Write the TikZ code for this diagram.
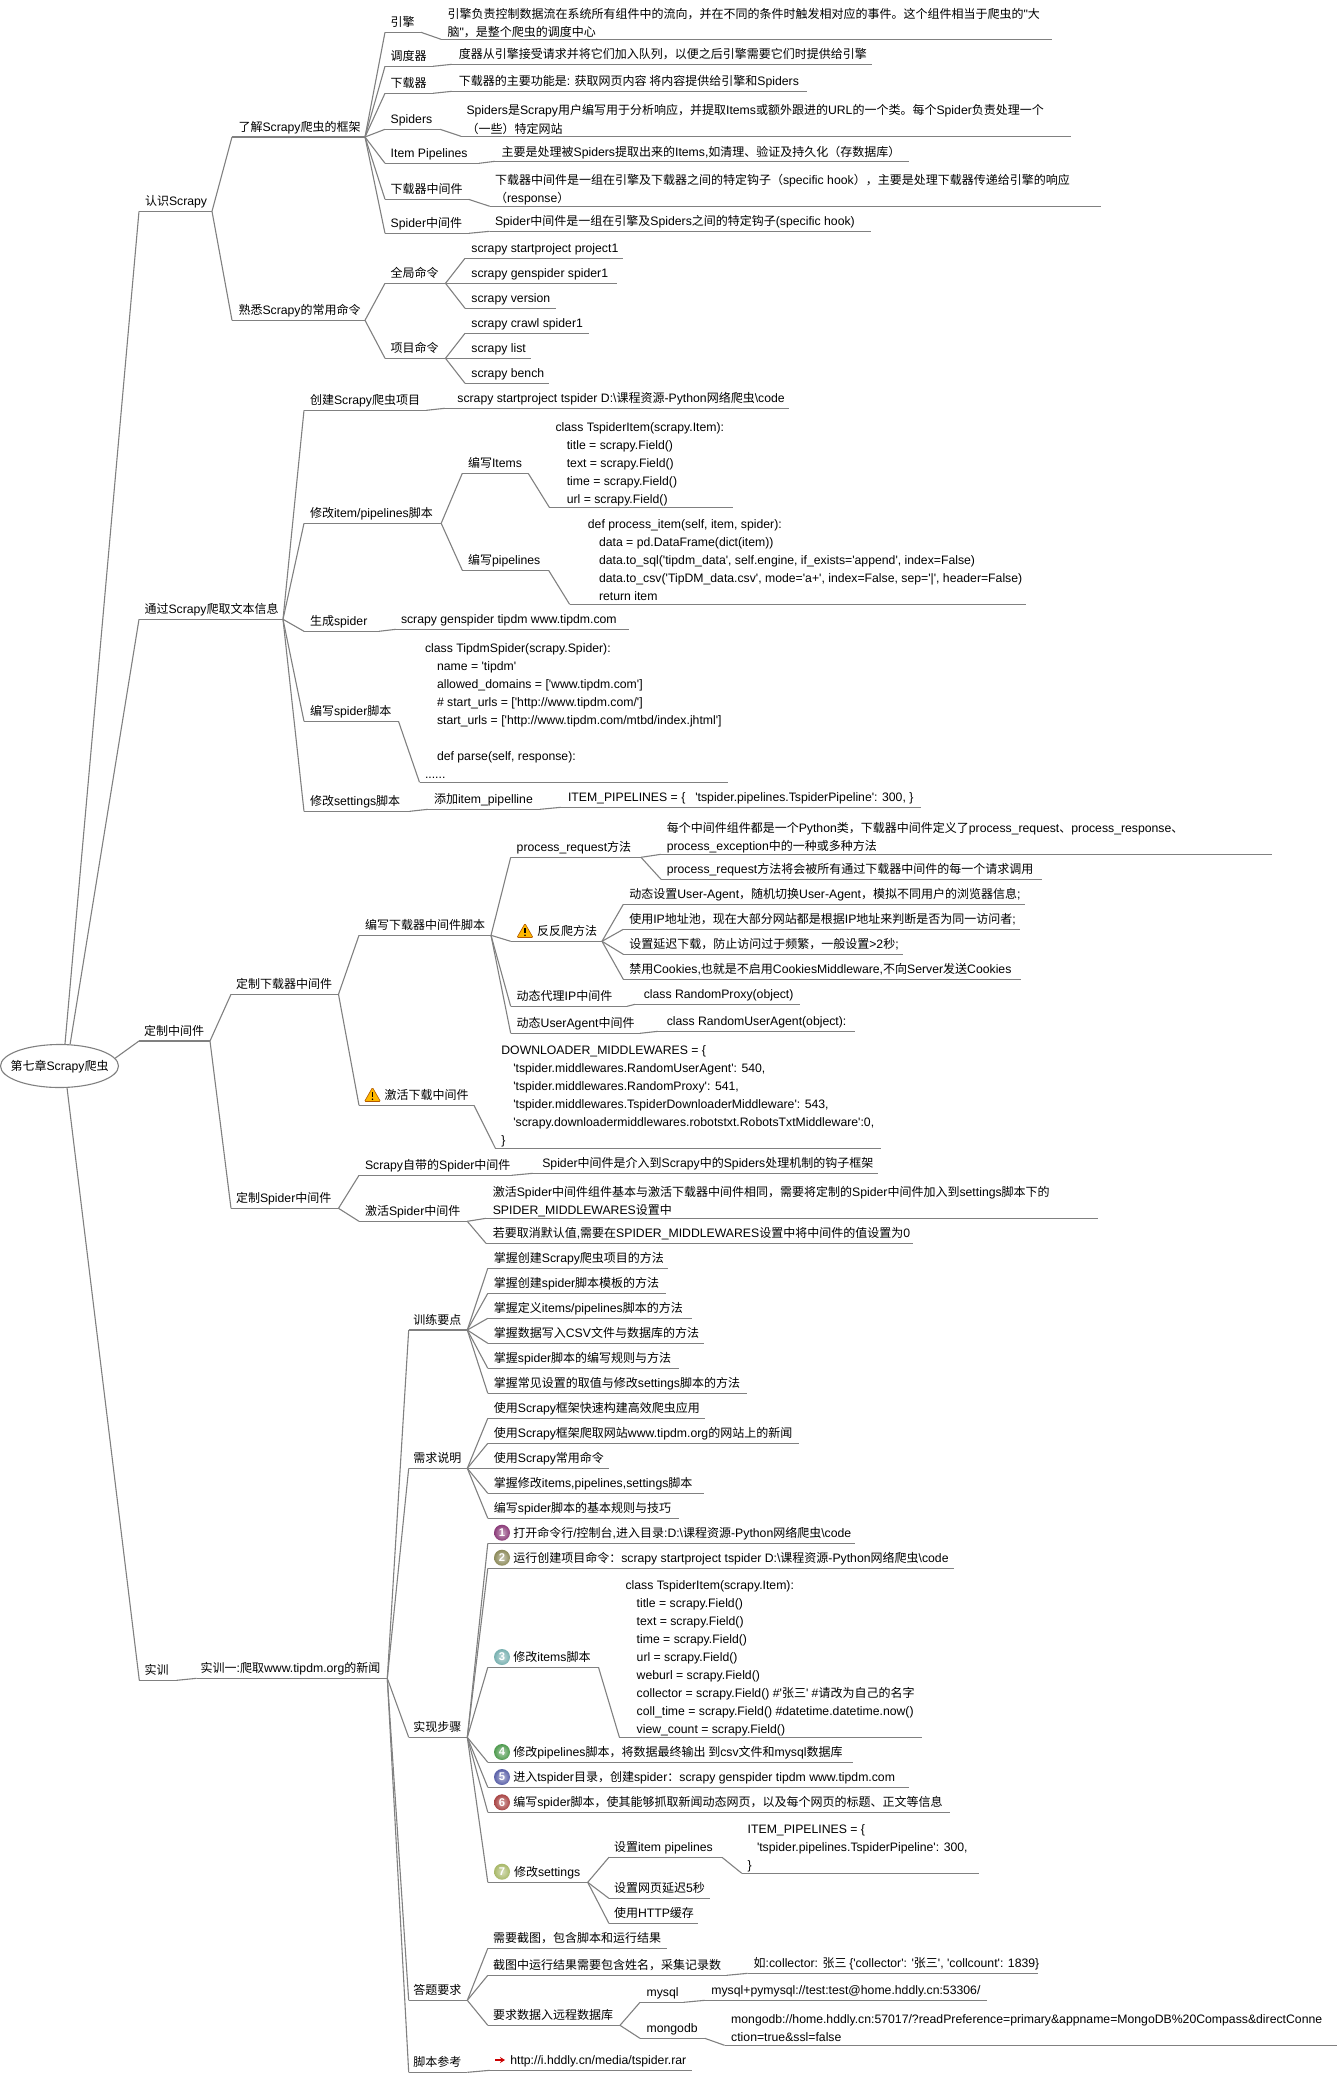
\documentclass[tikz,border=0pt]{standalone}
\usepackage{fontspec}
\usetikzlibrary{shapes.geometric,arrows.meta}
\newfontfamily\latf[Scale=1.02]{Liberation Sans}
\newfontfamily\cjkf{Noto Sans CJK SC}
\XeTeXinterchartokenstate=1
\chardef\cjkcls=100
\makeatletter
\@tempcnta="2E80
\loop\XeTeXcharclass\@tempcnta=\cjkcls
\advance\@tempcnta by 1
\ifnum\@tempcnta<"A000 \repeat
\@tempcnta="FF00
\loop\XeTeXcharclass\@tempcnta=\cjkcls
\advance\@tempcnta by 1
\ifnum\@tempcnta<"FFF0 \repeat
\makeatother
\XeTeXinterchartoks 0 \cjkcls={\cjkf}
\XeTeXinterchartoks 4095 \cjkcls={\cjkf}
\XeTeXinterchartoks \cjkcls 0={\latf}
\XeTeXinterchartoks 4095 0={\latf}
\definecolor{linec}{HTML}{808080}
\tikzset{
  ul/.style={draw=linec,line width=1.1pt},
  txt/.style={anchor=base west,inner sep=0pt,outer sep=0pt,font=\latf\fontsize{12}{14}\selectfont,text=black},
  ballnum/.style={circle,inner sep=0pt,minimum size=16pt,shade,inner color=#1!45!white,outer color=#1,text=white,font=\latf\bfseries\fontsize{11}{12}\selectfont},
  warn/.style={fill=#1,draw=orange!70!black,line width=.6pt,rounded corners=1pt},
}
\newcount\tlc
\newcommand\tln[3]{\global\advance\tlc by 1 \node[txt] (t\the\tlc) at (#1,#2+4.5) {#3};}
\newcommand\tpc[7]{\coordinate (#1L) at (#2,#4); \coordinate (#1R) at (#3,#4); \draw[ul] (#1L) -- (#1R); \node[txt] (#1) at (#5,#6+4.5) {#7};}
\newcommand\cnn[2]{\foreach \kid in {#2} {\draw[ul] (#1R) -- (\kid L);}}
\newcommand\wicon[3]{\coordinate (#1) at (#2,#3); \filldraw[warn={orange!55!yellow}] (#2-8,#3+6.5) -- (#2,#3-7.5) -- (#2+8,#3+6.5) -- cycle; \draw[black,line width=1.2pt] (#2,#3-3) -- (#2,#3+2); \fill[black] (#2,#3+4.2) circle (.8pt);}
\begin{document}
\begin{tikzpicture}[x=1pt,y=-1pt]
\useasboundingbox (0,0) rectangle (1337,2073);
\definecolor{b1}{HTML}{8A3A78}\definecolor{b2}{HTML}{8C8A5A}\definecolor{b3}{HTML}{78B0B0}
\definecolor{b4}{HTML}{4E9A4E}\definecolor{b5}{HTML}{5A60A8}\definecolor{b6}{HTML}{A84444}\definecolor{b7}{HTML}{A8B868}
% root
\node[draw=linec,line width=1.1pt,ellipse,minimum width=118pt,minimum height=43pt,inner sep=0pt] (root) at (59.5,1066) {};
\tln{10.5}{1066}{第七章Scrapy爬虫}
% level 1
\tpc{na}{139}{212}{211.3}{145}{201}{认识Scrapy}
\tpc{nb}{139}{283}{619.3}{144.5}{609.3}{通过Scrapy爬取文本信息}
\tpc{nc}{139}{210}{1041}{144}{1031}{定制中间件}
\tpc{nd}{139.3}{176.7}{1680.3}{144.7}{1670}{实训}
\draw[ul] (root.76) -- (naL);
\draw[ul] (root.64) -- (nbL);
\draw[ul] (root.8) -- (ncL);
\draw[ul] (root.-71) -- (ndL);
% 认识Scrapy
\tpc{aa}{232}{365}{137}{238.5}{127}{了解Scrapy爬虫的框架}
\tpc{ab}{232}{365}{320.3}{238.5}{310}{熟悉Scrapy的常用命令}
\cnn{na}{aa,ab}
\tpc{a1}{385}{421}{32.3}{390.7}{22.3}{引擎}
\tpc{a2}{385}{433}{66.3}{390.7}{56}{调度器}
\tpc{a3}{385}{433}{93.3}{390.7}{83}{下载器}
\tpc{a4}{385}{440}{129.3}{390.7}{118.7}{Spiders}
\tpc{a5}{385}{479}{163.3}{390.7}{152.7}{Item Pipelines}
\tpc{a6}{385}{468.6}{199.3}{390.7}{189.3}{下载器中间件}
\tpc{a7}{385}{469}{233.3}{390.7}{222.7}{Spider中间件}
\cnn{aa}{a1,a2,a3,a4,a5,a6,a7}
\tpc{l1}{441}{1052}{39.3}{447.5}{13.7}{引擎负责控制数据流在系统所有组件中的流向，并在不同的条件时触发相对应的事件。这个组件相当于爬虫的"大}
\tln{447.5}{31.7}{脑"，是整个爬虫的调度中心}
\tpc{l2}{452}{872}{64.3}{458.8}{54.3}{度器从引擎接受请求并将它们加入队列，以便之后引擎需要它们时提供给引擎}
\tpc{l3}{452}{807.4}{91.3}{458.8}{81}{下载器的主要功能是: 获取网页内容 将内容提供给引擎和Spiders}
\tpc{l4}{461}{1071}{136.3}{466.5}{110}{Spiders是Scrapy用户编写用于分析响应，并提取Items或额外跟进的URL的一个类。每个Spider负责处理一个}
\tln{466.5}{128.7}{（一些）特定网站}
\tpc{l5}{495}{908.5}{161.3}{501.6}{151.7}{主要是处理被Spiders提取出来的Items,如清理、验证及持久化（存数据库）}
\tpc{l6}{489.7}{1101}{206.3}{495}{180.3}{下载器中间件是一组在引擎及下载器之间的特定钩子（specific hook），主要是处理下载器传递给引擎的响应}
\tln{495}{198.3}{（response）}
\tpc{l7}{489.7}{871}{231.3}{495}{221}{Spider中间件是一组在引擎及Spiders之间的特定钩子(specific hook)}
\cnn{a1}{l1}\cnn{a2}{l2}\cnn{a3}{l3}\cnn{a4}{l4}\cnn{a5}{l5}\cnn{a6}{l6}\cnn{a7}{l7}
\tpc{b1n}{385}{445.5}{283.3}{390.7}{273.3}{全局命令}
\tpc{b2n}{385}{445.5}{358.3}{390.7}{348}{项目命令}
\cnn{ab}{b1n,b2n}
\tpc{c1}{465}{623}{258.3}{471.4}{248}{scrapy startproject project1}
\tpc{c2}{445.5}{616.6}{283.3}{471.4}{273}{scrapy genspider spider1}
\tpc{c3}{465}{555.6}{308.3}{471.4}{298}{scrapy version}
\cnn{b1n}{c1,c3}
\tpc{c4}{465}{589}{333.3}{471.4}{323}{scrapy crawl spider1}
\tpc{c5}{445.5}{531}{358.3}{471.4}{348}{scrapy list}
\tpc{c6}{465}{549.3}{383.3}{471.4}{373}{scrapy bench}
\cnn{b2n}{c4,c6}
% 通过Scrapy
\tpc{e1}{304}{426.5}{410.3}{310}{400}{创建Scrapy爬虫项目}
\tpc{e2}{304}{441.2}{523.3}{310}{513}{修改item/pipelines脚本}
\tpc{e3}{304}{379}{631.3}{310}{621}{生成spider}
\tpc{e4}{304}{398.5}{721.3}{310}{711}{编写spider脚本}
\tpc{e5}{304}{409.7}{811.3}{310}{801.3}{修改settings脚本}
\cnn{nb}{e1,e2,e3,e4,e5}
\tpc{f1}{444.8}{788.5}{408.3}{457.4}{398}{scrapy startproject tspider D:\textbackslash{}课程资源-Python网络爬虫\textbackslash{}code}
\cnn{e1}{f1}
\tpc{f2}{462.3}{528.2}{473.3}{468}{462.7}{编写Items}
\tpc{f3}{462.3}{548.6}{570.3}{468}{560}{编写pipelines}
\cnn{e2}{f2,f3}
\tpc{f4}{549.3}{733}{507.3}{555.6}{427}{class TspiderItem(scrapy.Item):}
\tln{566.8}{445}{title = scrapy.Field()}
\tln{566.8}{463}{text = scrapy.Field()}
\tln{566.8}{481}{time = scrapy.Field()}
\tln{566.8}{499}{url = scrapy.Field()}
\cnn{f2}{f4}
\tpc{f5}{569.6}{1025.6}{604.3}{587.9}{524}{def process\_item(self, item, spider):}
\tln{599}{542}{data = pd.DataFrame(dict(item))}
\tln{599}{560}{data.to\_sql('tipdm\_data', self.engine, if\_exists='append', index=False)}
\tln{599}{578}{data.to\_csv('TipDM\_data.csv', mode='a+', index=False, sep='|', header=False)}
\tln{599}{596}{return item}
\cnn{f3}{f5}
\tpc{f6}{396}{629}{629.3}{401}{619}{scrapy genspider tipdm www.tipdm.com}
\cnn{e3}{f6}
\tpc{f7}{419.5}{727.5}{782.3}{425}{648}{class TipdmSpider(scrapy.Spider):}
\tln{437}{666}{name = 'tipdm'}
\tln{437}{684}{allowed\_domains = ['www.tipdm.com']}
\tln{437}{702}{\# start\_urls = ['http://www.tipdm.com/']}
\tln{437}{720}{start\_urls = ['http://www.tipdm.com/mtbd/index.jhtml']}
\tln{437}{756}{def parse(self, response):}
\tln{425}{774}{......}
\cnn{e4}{f7}
\tpc{f8}{428}{540}{809.3}{434}{799}{添加item\_pipelline}
\tpc{f9}{561}{921}{807.3}{568}{797}{ITEM\_PIPELINES = \{\hspace{10pt}'tspider.pipelines.TspiderPipeline': 300, \}}
\cnn{e5}{f8}\cnn{f8}{f9}
% 定制中间件
\tpc{g1}{231}{338.5}{994.3}{236}{984}{定制下载器中间件}
\tpc{g2}{231}{338.5}{1208.3}{236}{1198}{定制Spider中间件}
\cnn{nc}{g1,g2}
\tpc{g3}{359}{491}{935.3}{365}{925.3}{编写下载器中间件脚本}
\tpc{g4}{359}{474}{1105.3}{384.5}{1095}{激活下载中间件}
\wicon{w1}{372.5}{1095}
\cnn{g1}{g3,g4}
\tpc{h1}{495.4}{880.8}{1148.3}{501.4}{1049.7}{DOWNLOADER\_MIDDLEWARES = \{}
\tln{513.3}{1067.7}{'tspider.middlewares.RandomUserAgent': 540,}
\tln{513.3}{1085.7}{'tspider.middlewares.RandomProxy': 541,}
\tln{513.3}{1103.7}{'tspider.middlewares.TspiderDownloaderMiddleware': 543,}
\tln{513.3}{1121.7}{'scrapy.downloadermiddlewares.robotstxt.RobotsTxtMiddleware':0,}
\tln{501.4}{1139.7}{\}}
\cnn{g4}{h1}
\tpc{i1}{510.7}{641}{857.3}{516.7}{847}{process\_request方法}
\tpc{i2}{510.7}{602}{941.3}{537}{931.3}{反反爬方法}
\wicon{w2}{525}{931}
\tpc{i3}{510.7}{627}{1006.3}{516.7}{996}{动态代理IP中间件}
\tpc{i4}{510.7}{640}{1033.3}{516.7}{1023}{动态UserAgent中间件}
\cnn{g3}{i1,i2,i3,i4}
\tpc{j1}{661}{1272}{854.3}{666.8}{828.3}{每个中间件组件都是一个Python类，下载器中间件定义了process\_request、process\_response、}
\tln{666.8}{846.3}{process\_exception中的一种或多种方法}
\tpc{j2}{661}{1042}{879.3}{666.8}{869.3}{process\_request方法将会被所有通过下载器中间件的每一个请求调用}
\cnn{i1}{j1,j2}
\tpc{k1}{623.3}{1025}{904.3}{629.3}{894.3}{动态设置User-Agent，随机切换User-Agent，模拟不同用户的浏览器信息;}
\tpc{k2}{623.3}{1020}{929.3}{629.3}{919.3}{使用IP地址池，现在大部分网站都是根据IP地址来判断是否为同一访问者;}
\tpc{k3}{623.3}{903}{954.3}{629.3}{944.3}{设置延迟下载，防止访问过于频繁，一般设置>2秒;}
\tpc{k4}{623.3}{1020.6}{979.3}{629.3}{969}{禁用Cookies,也就是不启用CookiesMiddleware,不向Server发送Cookies}
\cnn{i2}{k1,k2,k3,k4}
\tpc{k5}{635}{800}{1004.3}{643.8}{994}{class RandomProxy(object)}
\tpc{k6}{658}{855}{1031.3}{666.8}{1021}{class RandomUserAgent(object):}
\cnn{i3}{k5}\cnn{i4}{k6}
\tpc{m1}{359}{511.6}{1175.3}{365}{1165}{Scrapy自带的Spider中间件}
\tpc{m2}{359}{467.3}{1221.3}{365}{1211.3}{激活Spider中间件}
\cnn{g2}{m1,m2}
\tpc{m3}{533}{878}{1173.3}{542.3}{1163}{Spider中间件是介入到Scrapy中的Spiders处理机制的钩子框架}
\cnn{m1}{m3}
\tpc{m4}{486}{1098}{1218.3}{492.8}{1192.3}{激活Spider中间件组件基本与激活下载器中间件相同，需要将定制的Spider中间件加入到settings脚本下的}
\tln{492.8}{1210.3}{SPIDER\_MIDDLEWARES设置中}
\tpc{m5}{486}{913}{1243.3}{492.8}{1233}{若要取消默认值,需要在SPIDER\_MIDDLEWARES设置中将中间件的值设置为0}
\cnn{m2}{m4,m5}
% 实训
\tpc{p0}{196.7}{387.3}{1678.3}{200.7}{1668}{实训一:爬取www.tipdm.org的新闻}
\cnn{nd}{p0}
\tpc{p1}{408.7}{467.3}{1330}{413.3}{1320}{训练要点}
\tpc{p2}{408.7}{467.3}{1468.3}{413.3}{1458.3}{需求说明}
\tpc{p3}{408.7}{467.3}{1737.3}{413.3}{1727}{实现步骤}
\tpc{p4}{408.7}{467.3}{2000.3}{413.3}{1990}{答题要求}
\tpc{p5}{408.7}{467.3}{2072.3}{413.3}{2062.3}{脚本参考}
\cnn{p0}{p1,p2,p3,p4,p5}
\tpc{q1}{487.8}{668.4}{1268.3}{493.9}{1258.3}{掌握创建Scrapy爬虫项目的方法}
\tpc{q2}{487.8}{666.3}{1293.3}{493.9}{1283.3}{掌握创建spider脚本模板的方法}
\tpc{q3}{487.8}{692.3}{1318.3}{493.9}{1308.3}{掌握定义items/pipelines脚本的方法}
\tpc{q4}{487.8}{703.6}{1343.3}{493.9}{1333.3}{掌握数据写入CSV文件与数据库的方法}
\tpc{q5}{487.8}{678.6}{1368.3}{493.9}{1358.3}{掌握spider脚本的编写规则与方法}
\tpc{q6}{487.8}{747.4}{1393.3}{493.9}{1383.3}{掌握常见设置的取值与修改settings脚本的方法}
\cnn{p1}{q1,q2,q3,q4,q5,q6}
\tpc{r1}{487.8}{704.6}{1418.3}{493.9}{1408.3}{使用Scrapy框架快速构建高效爬虫应用}
\tpc{r2}{487.8}{798.5}{1443.3}{493.9}{1433.3}{使用Scrapy框架爬取网站www.tipdm.org的网站上的新闻}
\tpc{r3}{487.8}{608.7}{1468.3}{493.9}{1458.3}{使用Scrapy常用命令}
\tpc{r4}{487.8}{703.6}{1493.3}{493.9}{1483.3}{掌握修改items,pipelines,settings脚本}
\tpc{r5}{487.8}{678.6}{1518.3}{493.9}{1508.3}{编写spider脚本的基本规则与技巧}
\cnn{p2}{r1,r2,r3,r4,r5}
\tpc{s1}{487.8}{854.6}{1543.3}{513.3}{1532.7}{打开命令行/控制台,进入目录:D:\textbackslash{}课程资源-Python网络爬虫\textbackslash{}code}
\node[ballnum=b1] (bn1) at (502,1532.7) {1};
\tpc{s2}{487.8}{953.6}{1568.3}{513.3}{1557.7}{运行创建项目命令：scrapy startproject tspider D:\textbackslash{}课程资源-Python网络爬虫\textbackslash{}code}
\node[ballnum=b2] (bn2) at (502,1557.7) {2};
\tpc{s3}{487.8}{598.5}{1667.3}{513.3}{1657}{修改items脚本}
\node[ballnum=b3] (bn3) at (502,1657) {3};
\tpc{s4}{487.8}{852.6}{1762.3}{513.3}{1752}{修改pipelines脚本，将数据最终输出 到csv文件和mysql数据库}
\node[ballnum=b4] (bn4) at (502,1752) {4};
\tpc{s5}{487.8}{908.7}{1787.3}{513.3}{1777}{进入tspider目录，创建spider：scrapy genspider tipdm www.tipdm.com}
\node[ballnum=b5] (bn5) at (502,1777) {5};
\tpc{s6}{487.8}{950}{1812.3}{513.3}{1802.3}{编写spider脚本，使其能够抓取新闻动态网页，以及每个网页的标题、正文等信息}
\node[ballnum=b6] (bn6) at (502,1802.3) {6};
\tpc{s7}{487.8}{587.7}{1882.3}{514}{1871.7}{修改settings}
\node[ballnum=b7] (bn7) at (502,1871.7) {7};
\cnn{p3}{s1,s2,s3,s4,s5,s6,s7}
\tpc{u1}{619.4}{922.4}{1737.3}{625.5}{1585}{class TspiderItem(scrapy.Item):}
\tln{636.7}{1603}{title = scrapy.Field()}
\tln{636.7}{1621}{text = scrapy.Field()}
\tln{636.7}{1639}{time = scrapy.Field()}
\tln{636.7}{1657}{url = scrapy.Field()}
\tln{636.7}{1675}{weburl = scrapy.Field()}
\tln{636.7}{1693}{collector = scrapy.Field() \#'张三' \#请改为自己的名字}
\tln{636.7}{1711}{coll\_time = scrapy.Field() \#datetime.datetime.now()}
\tln{636.7}{1729}{view\_count = scrapy.Field()}
\cnn{s3}{u1}
\tpc{v1}{608.9}{722}{1857.3}{614}{1847}{设置item pipelines}
\tpc{v2}{608.9}{710}{1898.3}{614}{1888.3}{设置网页延迟5秒}
\tpc{v3}{608.9}{698}{1923.3}{614}{1913}{使用HTTP缓存}
\cnn{s7}{v1,v2,v3}
\tpc{v4}{741.8}{978.6}{1873.3}{747.7}{1829}{ITEM\_PIPELINES = \{}
\tln{757}{1847}{'tspider.pipelines.TspiderPipeline': 300,}
\tln{747.7}{1865}{\}}
\cnn{v1}{v4}
\tpc{x1}{487.8}{667}{1948.3}{493}{1938.3}{需要截图，包含脚本和运行结果}
\tpc{x2}{487.8}{726.6}{1975.3}{493}{1965.3}{截图中运行结果需要包含姓名，采集记录数}
\tpc{x3}{487.8}{620}{2025.3}{493}{2015}{要求数据入远程数据库}
\cnn{p4}{x1,x2,x3}
\tpc{x4}{747.7}{1038}{1973.3}{753.7}{1963}{如:collector: 张三 \{'collector': '张三', 'collcount': 1839\}}
\cnn{x2}{x4}
\tpc{y1}{640}{683.6}{2002.3}{646.6}{1991.7}{mysql}
\tpc{y2}{640}{704.8}{2038.3}{646.6}{2028}{mongodb}
\cnn{x3}{y1,y2}
\tpc{y3}{704.8}{986.5}{2000.3}{711.4}{1990}{mysql+pymysql://test:test@home.hddly.cn:53306/}
\tpc{y4}{724.6}{1337}{2045.3}{731.2}{2019}{mongodb://home.hddly.cn:57017/?readPreference=primary\&appname=MongoDB\%20Compass\&directConne}
\tln{731.2}{2037}{ction=true\&ssl=false}
\cnn{y1}{y3}\cnn{y2}{y4}
\tpc{z1}{489.8}{692}{2070.3}{510.3}{2060}{http://i.hddly.cn/media/tspider.rar}
\cnn{p5}{z1}
\coordinate (ar1) at (495,2060); \coordinate (ar2) at (505,2060);
\draw[red!80!black,line width=1.6pt,-{Stealth[length=5pt,width=6pt]}] (ar1) -- (ar2);
\end{tikzpicture}
\end{document}
